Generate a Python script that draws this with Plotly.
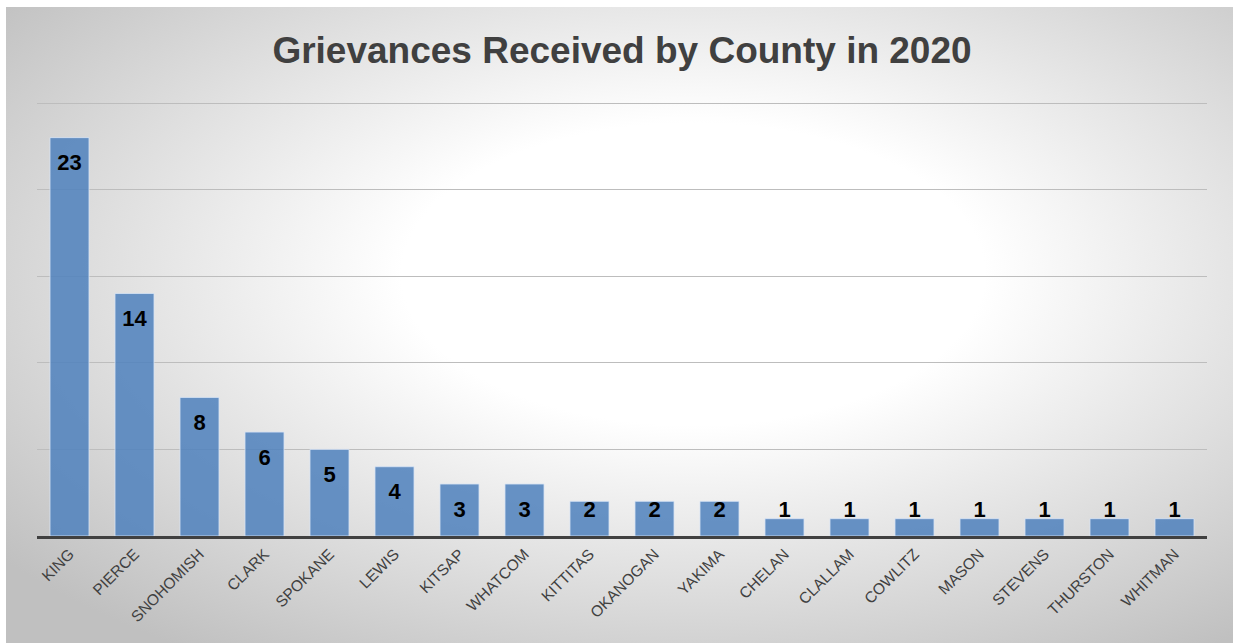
import base64
import plotly.graph_objects as go

counties = ["KING", "PIERCE", "SNOHOMISH", "CLARK", "SPOKANE", "LEWIS", "KITSAP",
            "WHATCOM", "KITTITAS", "OKANOGAN", "YAKIMA", "CHELAN", "CLALLAM",
            "COWLITZ", "MASON", "STEVENS", "THURSTON", "WHITMAN"]
grievances = [23, 14, 8, 6, 5, 4, 3, 3, 2, 2, 2, 1, 1, 1, 1, 1, 1, 1]

FONT = "Arial, 'Liberation Sans', sans-serif"

# radial gradient background as an inline SVG
svg = (
    '<svg xmlns="http://www.w3.org/2000/svg" width="1000" height="600" '
    'viewBox="0 0 1000 600" preserveAspectRatio="none">'
    '<defs><radialGradient id="g" cx="0.56" cy="0.42" r="0.72" fx="0.56" fy="0.42">'
    '<stop offset="0" stop-color="#ffffff"/>'
    '<stop offset="0.33" stop-color="#ffffff"/>'
    '<stop offset="1" stop-color="#c0c0c0"/>'
    '</radialGradient></defs>'
    '<rect x="0" y="0" width="1000" height="600" fill="url(#g)"/></svg>'
)
bg_src = "data:image/svg+xml;base64," + base64.b64encode(svg.encode()).decode()

W, H = 1233, 643
ML, MR, MT, MB = 37, 26, 99, 107
PW, PH = W - ML - MR, H - MT - MB
YMAX = 25 * PH / 433.0   # keeps 25 at the same pixel row with a little headroom

# label positions: inside the bar end, but never lower than near the base
label_y = [max(v - 1.56, 1.44) for v in grievances]

fig = go.Figure()
fig.add_trace(go.Bar(
    x=counties, y=grievances,
    marker=dict(color="rgba(79,129,189,0.86)",
                line=dict(color="rgba(215,228,245,0.8)", width=1)),
    hoverinfo="skip", showlegend=False,
))
fig.add_trace(go.Scatter(
    x=counties, y=label_y, mode="text",
    text=[str(v) for v in grievances],
    textposition="middle center",
    textfont=dict(family=FONT, size=22, color="#000000", weight="bold"),
    hoverinfo="skip", showlegend=False, cliponaxis=False,
))

fig.update_layout(
    width=W, height=H,
    margin=dict(l=ML, r=MR, t=MT, b=MB, pad=0),
    paper_bgcolor="#ffffff",
    plot_bgcolor="rgba(0,0,0,0)",
    bargap=0.4,
    title=dict(text="Grievances Received by County in 2020",
               x=0.5, xanchor="center", xref="paper",
               y=1 - 50 / H, yanchor="middle",
               font=dict(family=FONT, size=37, color="#404040", weight="bold")),
    xaxis=dict(tickangle=-45, tickfont=dict(family=FONT, size=15.5, color="#404040"),
               range=[-0.5, len(counties) - 0.5],
               showline=True, linecolor="#404040", linewidth=3,
               showgrid=False, ticks="", fixedrange=True),
    yaxis=dict(range=[0, YMAX], dtick=5, showticklabels=False,
               showgrid=True, gridcolor="#bdbdbd", gridwidth=1,
               zeroline=False, showline=False, ticks="", fixedrange=True),
    images=[dict(source=bg_src, xref="paper", yref="paper",
                 x=(6 - ML) / PW, y=(H - MB - 7) / PH,
                 sizex=(W - 6) / PW, sizey=(H - 7) / PH,
                 xanchor="left", yanchor="top", sizing="stretch",
                 layer="below")],
)

fig.write_html("out.html")
